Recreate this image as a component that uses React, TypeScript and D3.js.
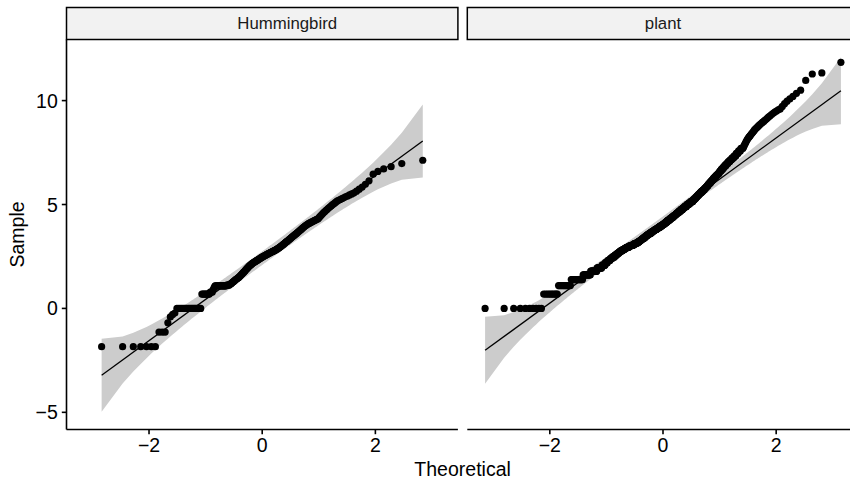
import React from 'react';
import * as d3 from 'd3';

// ---------- data ----------
const facets = ['Hummingbird', 'plant'];

// sorted sample values, Hummingbird (n = 220)
const hummingbirdSample = [
  -1.84, -1.84, -1.84, -1.84, -1.84, -1.84, -1.84,
  -1.14, -1.14, -1.14,
  -0.69, -0.41, -0.29, -0.22,
  0, 0, 0, 0, 0, 0, 0, 0, 0, 0, 0, 0, 0, 0, 0, 0, 0,
  0.69, 0.69, 0.69, 0.69, 0.69, 0.69, 0.69, 0.69,
  0.78, 0.78, 0.78, 0.9, 1.0,
  1.08, 1.08, 1.08, 1.08, 1.08, 1.08, 1.08, 1.08, 1.08, 1.08, 1.08, 1.08, 1.08, 1.08,
  1.12, 1.12, 1.12, 1.12,
  1.16, 1.18,
  1.21, 1.24, 1.27, 1.3, 1.33, 1.36,
  1.39, 1.41, 1.44, 1.46, 1.49,
  1.52, 1.56, 1.59, 1.63, 1.66,
  1.7, 1.73, 1.77, 1.8, 1.84,
  1.88, 1.91, 1.95, 1.98, 2.02,
  2.05, 2.08, 2.1, 2.13, 2.16,
  2.18, 2.2, 2.22, 2.24, 2.26,
  2.28, 2.3, 2.32, 2.34, 2.36,
  2.38, 2.4, 2.42, 2.44, 2.46,
  2.48, 2.5, 2.51, 2.53, 2.55,
  2.57, 2.58, 2.6, 2.62, 2.63,
  2.65, 2.66, 2.68, 2.7, 2.71,
  2.73, 2.74, 2.76, 2.78, 2.79,
  2.81, 2.83, 2.85, 2.87, 2.89,
  2.91, 2.94, 2.96, 2.99, 3.01,
  3.04, 3.07, 3.09, 3.12, 3.15,
  3.18, 3.21, 3.23, 3.26, 3.29,
  3.32, 3.35, 3.38, 3.41, 3.44,
  3.47, 3.5, 3.53, 3.56, 3.59,
  3.62, 3.65, 3.69, 3.72, 3.75,
  3.79, 3.82, 3.86, 3.89, 3.93,
  3.96, 3.99, 4.02, 4.05, 4.08,
  4.1, 4.12, 4.15, 4.17, 4.19,
  4.22, 4.24, 4.27, 4.29, 4.32,
  4.38, 4.44, 4.49, 4.55, 4.61,
  4.66, 4.72, 4.77, 4.83, 4.88,
  4.93, 4.99, 5.04, 5.1, 5.16,
  5.2, 5.24, 5.28, 5.32, 5.37,
  5.41, 5.46, 5.51, 5.56, 5.64,
  5.74, 5.84, 5.97, 6.14, 6.46,
  6.59, 6.71, 6.82, 6.97, 7.13,
];

// sorted sample values, plant (n = 600), as [value, count] runs of tied / near-tied values
const plantRuns: [number, number][] = [
  [0, 10], [0.69, 9], [1.1, 12], [1.39, 16], [1.61, 13], [1.79, 13], [1.95, 11], [2.08, 8],
  [2.2, 6], [2.3, 7], [2.4, 6],
  [2.48, 7], [2.56, 6], [2.64, 6], [2.71, 5],
  [2.77, 7], [2.83, 7], [2.89, 6],
  [2.94, 9], [3.0, 8], [3.04, 8], [3.09, 6], [3.13, 6],
  [3.15, 5], [3.2, 5], [3.24, 5], [3.29, 5], [3.34, 5], [3.38, 5], [3.43, 5], [3.48, 5],
  [3.53, 6], [3.58, 6], [3.62, 6], [3.67, 5], [3.71, 5], [3.75, 5],
  [3.79, 6], [3.83, 6], [3.88, 6], [3.92, 6], [3.97, 6], [4.01, 5],
  [4.05, 6], [4.11, 6], [4.16, 6], [4.22, 6], [4.27, 6], [4.33, 6], [4.38, 6], [4.44, 6], [4.49, 6], [4.54, 3],
  [4.59, 8], [4.67, 8], [4.75, 8], [4.83, 8], [4.91, 8], [4.99, 8], [5.07, 8], [5.15, 8],
  [5.22, 5], [5.29, 5], [5.36, 5], [5.43, 5], [5.5, 5], [5.57, 5], [5.64, 5], [5.71, 5], [5.78, 4], [5.84, 3],
  [5.89, 4], [5.97, 4], [6.04, 4], [6.12, 4], [6.19, 4], [6.27, 4], [6.34, 4], [6.42, 4], [6.49, 4], [6.55, 1],
  [6.61, 4], [6.7, 4], [6.79, 4], [6.88, 4], [6.97, 4], [7.06, 4], [7.15, 4], [7.24, 4],
  [7.34, 4], [7.46, 4], [7.58, 4], [7.7, 4],
  [7.76, 1], [7.83, 1], [7.9, 1], [7.96, 1], [8.03, 1], [8.09, 1], [8.15, 1],
  [8.2, 1], [8.25, 1], [8.29, 1], [8.34, 1], [8.39, 1], [8.44, 1], [8.49, 1], [8.54, 1],
  [8.6, 1], [8.64, 1], [8.69, 1], [8.73, 1], [8.78, 1], [8.82, 1], [8.87, 1], [8.91, 1],
  [8.96, 1], [9.0, 1], [9.05, 1], [9.1, 1],
  [9.16, 1], [9.22, 1], [9.27, 1], [9.33, 1], [9.39, 1], [9.45, 1], [9.5, 1], [9.56, 1],
  [9.6, 1], [9.72, 1], [9.85, 1], [9.97, 1], [10.08, 1], [10.2, 1], [10.35, 1], [10.5, 1],
  [10.97, 1], [11.28, 1], [11.33, 1], [11.84, 1],
];

const xTicks = [-2, 0, 2];
const yTicks = [-5, 0, 5, 10];
const xTitle = 'Theoretical';
const yTitle = 'Sample';

// ---------- statistics (as stat_qq / stat_qq_line / stat_qq_band) ----------
function qnorm(p: number): number {
  const a = [-3.969683028665376e1, 2.209460984245205e2, -2.759285104469687e2, 1.38357751867269e2, -3.066479806614716e1, 2.506628277459239];
  const b = [-5.447609879822406e1, 1.615858368580409e2, -1.556989798598866e2, 6.680131188771972e1, -1.328068155288572e1];
  const c = [-7.784894002430293e-3, -3.223964580411365e-1, -2.400758277161838, -2.549732539343734, 4.374664141464968, 2.938163982698783];
  const d = [7.784695709041462e-3, 3.224671290700398e-1, 2.445134137142996, 3.754408661907416];
  const pl = 0.02425;
  let q: number, r: number;
  if (p < pl) {
    q = Math.sqrt(-2 * Math.log(p));
    return (((((c[0] * q + c[1]) * q + c[2]) * q + c[3]) * q + c[4]) * q + c[5]) / ((((d[0] * q + d[1]) * q + d[2]) * q + d[3]) * q + 1);
  } else if (p <= 1 - pl) {
    q = p - 0.5;
    r = q * q;
    return (((((a[0] * r + a[1]) * r + a[2]) * r + a[3]) * r + a[4]) * r + a[5]) * q / (((((b[0] * r + b[1]) * r + b[2]) * r + b[3]) * r + b[4]) * r + 1);
  }
  q = Math.sqrt(-2 * Math.log(1 - p));
  return -(((((c[0] * q + c[1]) * q + c[2]) * q + c[3]) * q + c[4]) * q + c[5]) / ((((d[0] * q + d[1]) * q + d[2]) * q + d[3]) * q + 1);
}
const dnorm = (x: number) => Math.exp(-x * x / 2) / Math.sqrt(2 * Math.PI);

function expandRuns(runs: [number, number][]) {
  const out: number[] = [];
  runs.forEach(([v, k]) => { for (let i = 0; i < k; i++) out.push(v); });
  return out;
}

function qqStats(sample: number[]) {
  const y = sample.slice().sort(d3.ascending);
  const n = y.length;
  const a = n <= 10 ? 3 / 8 : 0.5;
  const pts = y.map((v, i) => {
    const p = (i + 1 - a) / (n + 1 - 2 * a);
    return { p, x: qnorm(p), y: v };
  });
  const q1 = d3.quantileSorted(y, 0.25) as number;
  const q3 = d3.quantileSorted(y, 0.75) as number;
  const slope = (q3 - q1) / (qnorm(0.75) - qnorm(0.25));
  const intercept = q1 - slope * qnorm(0.25);
  const zc = qnorm(0.975);
  const band = pts.map((d) => {
    const fit = intercept + slope * d.x;
    const se = (slope / dnorm(d.x)) * Math.sqrt((d.p * (1 - d.p)) / n);
    return { x: d.x, lo: fit - zc * se, hi: fit + zc * se };
  });
  return { pts, slope, intercept, band };
}

// ---------- layout ----------
const W = 850;
const H = 486;
const panelLeft = 66.5;
const panelW = 391.4;
const panelGap = 9.4;
const stripTop = 7.5;
const stripH = 32;
const panelTop = stripTop + stripH;
const panelBottom = 429.5;
const tickLen = 4.7;
const stripLabelDx = [25, 0];
const font = 'Liberation Sans, Arial, Helvetica, sans-serif';

const fmt = (v: number) => (v < 0 ? '\u2212' + Math.abs(v) : String(v));

export default function App() {
  const stats = [qqStats(hummingbirdSample), qqStats(expandRuns(plantRuns))];

  const allX = stats.flatMap((s) => s.pts.map((d) => d.x));
  const allY = stats.flatMap((s) => [...s.pts.map((d) => d.y), ...s.band.map((b) => b.lo), ...s.band.map((b) => b.hi)]);
  const [x0, x1] = d3.extent(allX) as [number, number];
  const [y0, y1] = d3.extent(allY) as [number, number];
  const ex = (x1 - x0) * 0.05;
  const ey = (y1 - y0) * 0.05;
  const y = d3.scaleLinear().domain([y0 - ey, y1 + ey]).range([panelBottom, panelTop]);

  return (
    <svg width={W} height={H} style={{ position: 'absolute', left: 0, top: 0, display: 'block', background: '#fff' }}>
      <rect x={0} y={0} width={W} height={H} fill="#fff" />
      {stats.map((s, k) => {
        const px = panelLeft + k * (panelW + panelGap);
        const x = d3.scaleLinear().domain([x0 - ex, x1 + ex]).range([px, px + panelW]);
        const area = d3.area<{ x: number; lo: number; hi: number }>()
          .x((d) => x(d.x)).y0((d) => y(d.lo)).y1((d) => y(d.hi));
        const xmin = s.pts[0].x;
        const xmax = s.pts[s.pts.length - 1].x;
        const clipId = `clip${k}`;
        return (
          <g key={k}>
            <defs>
              <clipPath id={clipId}>
                <rect x={px} y={panelTop} width={panelW} height={panelBottom - panelTop} />
              </clipPath>
            </defs>
            <g clipPath={`url(#${clipId})`}>
              <path d={area(s.band) || ''} fill="#cccccc" />
              <line x1={x(xmin)} x2={x(xmax)} y1={y(s.intercept + s.slope * xmin)} y2={y(s.intercept + s.slope * xmax)}
                stroke="#000" strokeWidth={1.3} />
              {s.pts.map((d, i) => (
                <circle key={i} cx={x(d.x)} cy={y(d.y)} r={3.6} fill="#000" />
              ))}
            </g>
            {/* strip */}
            <rect x={px} y={stripTop} width={panelW} height={stripH} fill="#F2F2F2" stroke="#000" strokeWidth={1.5} />
            <text x={px + panelW / 2 + stripLabelDx[k]} y={stripTop + stripH / 2} textAnchor="middle" dominantBaseline="central"
              fontFamily={font} fontSize={16.8} fill="#1a1a1a">{facets[k]}</text>
            {/* x axis */}
            <line x1={px} x2={px + panelW} y1={panelBottom} y2={panelBottom} stroke="#000" strokeWidth={1.6} />
            {xTicks.map((t) => (
              <g key={t}>
                <line x1={x(t)} x2={x(t)} y1={panelBottom} y2={panelBottom + tickLen} stroke="#000" strokeWidth={1.6} />
                <text x={x(t)} y={452} textAnchor="middle" fontFamily={font} fontSize={19.5} fill="#000">{fmt(t)}</text>
              </g>
            ))}
            {/* y axis on first panel */}
            {k === 0 && (
              <g>
                <line x1={px} x2={px} y1={panelTop} y2={panelBottom} stroke="#000" strokeWidth={1.6} />
                {yTicks.map((t) => (
                  <g key={t}>
                    <line x1={px - tickLen} x2={px} y1={y(t)} y2={y(t)} stroke="#000" strokeWidth={1.6} />
                    <text x={px - tickLen - 4} y={y(t)} textAnchor="end" dominantBaseline="central"
                      fontFamily={font} fontSize={19.5} fill="#000">{fmt(t)}</text>
                  </g>
                ))}
              </g>
            )}
          </g>
        );
      })}
      <text x={panelLeft + (2 * panelW + panelGap) / 2} y={476} textAnchor="middle" fontFamily={font} fontSize={19.5} fill="#000">{xTitle}</text>
      <text transform={`translate(24, ${(panelTop + panelBottom) / 2}) rotate(-90)`} textAnchor="middle"
        fontFamily={font} fontSize={19.5} fill="#000">{yTitle}</text>
    </svg>
  );
}
